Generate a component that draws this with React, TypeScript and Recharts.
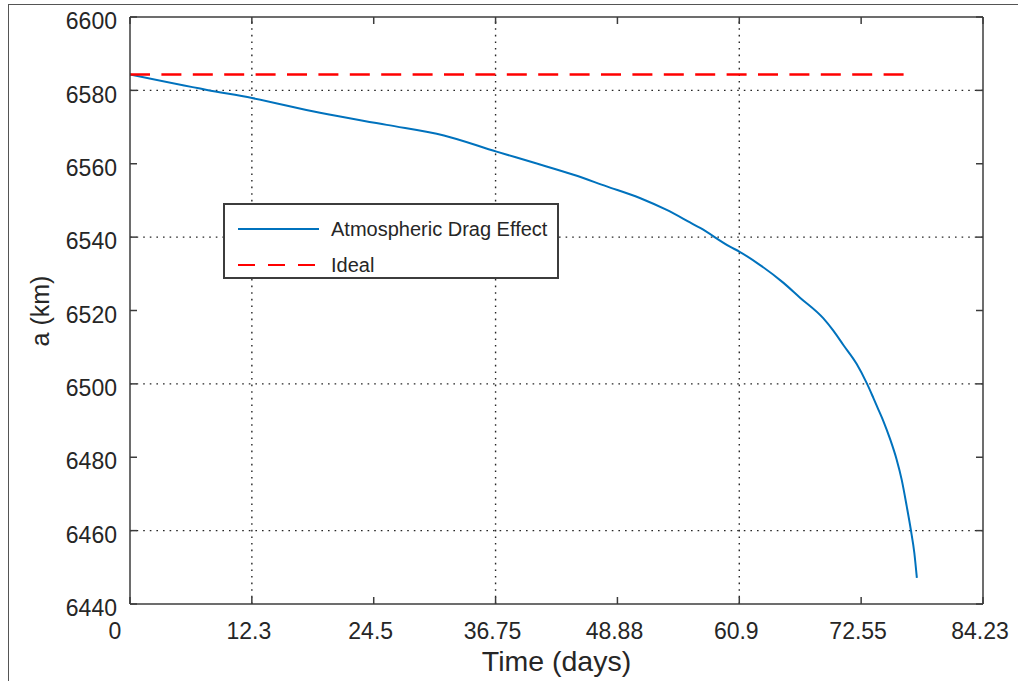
import React from 'react';
import { LineChart, Line, XAxis, YAxis, ReferenceLine, Legend, Label } from 'recharts';

// Semi-major axis decay under atmospheric drag vs. the drag-free orbit
const dragDays = [0, 7.6, 12.05, 18.76, 25.35, 31.0, 36.2, 40.0, 43.8, 47.0, 50.4, 53.0, 55.3, 56.3, 59.24, 60.2, 61.9, 64.5, 66.16, 68.45, 69.45, 70.44, 71.76, 72.75, 73.4, 73.9, 74.4, 75.05, 75.7, 76.2, 76.7, 77.1, 77.45, 77.7];
const dragA = [6584.3, 6580.1, 6577.9, 6573.9, 6570.6, 6567.7, 6563.3, 6560.2, 6557.0, 6553.9, 6550.6, 6547.4, 6544.0, 6542.5, 6537.4, 6536.0, 6533.0, 6527.6, 6523.5, 6517.9, 6514.5, 6510.6, 6505.4, 6500.2, 6496.2, 6493.0, 6489.8, 6485.0, 6479.4, 6473.9, 6466.6, 6460.3, 6453.9, 6447.1];

const idealDays = [0, 77.5];
const idealA = [6584.3, 6584.3];

// x ticks are evenly spaced across the axis, labelled with the day marks below
const xTickValues = [0, 12.033, 24.066, 36.099, 48.131, 60.164, 72.197, 84.23];
const xTickLabels = ['0', '12.3', '24.5', '36.75', '48.88', '60.9', '72.55', '84.23'];
const xGridValues = [12.033, 36.099, 60.164];

const yTickValues = [6440, 6460, 6480, 6500, 6520, 6540, 6560, 6580, 6600];
const yGridValues = [6460, 6500, 6540, 6580];

const xDomain: [number, number] = [0, 84.23];
const yDomain: [number, number] = [6440, 6600];

const dragData = dragDays.map((day, i) => ({ day, a: dragA[i] }));
const idealData = idealDays.map((day, i) => ({ day, a: idealA[i] }));

// The ideal orbit is plotted against the top/right axes (same domains), which closes the box
const series = [
  { name: 'Atmospheric Drag Effect', data: dragData, color: '#0072BD', width: 2, dash: undefined as string | undefined, legendDash: undefined as string | undefined, xId: 'bottom', yId: 'left' },
  { name: 'Ideal', data: idealData, color: '#FF0000', width: 2.5, dash: '20 11.4', legendDash: '17 13', xId: 'top', yId: 'right' },
];

const FONT = "'Liberation Sans', Arial, sans-serif";
const TEXT = '#262626';
const AXIS = '#3c3c3c';

const XTick = (props: any) => {
  const { x, y, index } = props;
  const shift = index === 0 ? -15 : -3;
  return (
    <text x={x + shift} y={y} textAnchor="middle" fill={TEXT} fontSize={23} fontFamily={FONT}>
      {xTickLabels[index]}
    </text>
  );
};

const YTick = (props: any) => {
  const { x, y, payload } = props;
  return (
    <text x={x} y={y + 4} dy="0.355em" textAnchor="end" fill={TEXT} fontSize={23} fontFamily={FONT}>
      {payload.value}
    </text>
  );
};

const NoTick = () => <g />;

const LegendBox = () => (
  <div
    style={{
      width: 336,
      height: 76,
      boxSizing: 'border-box',
      border: `2px solid ${AXIS}`,
      background: '#fff',
      position: 'relative',
      fontFamily: FONT,
      fontSize: 20,
      color: TEXT,
    }}
  >
    {series.map((s, i) => (
      <div key={s.name} style={{ position: 'absolute', left: 13, top: 10 + i * 36, height: 28, display: 'flex', alignItems: 'center' }}>
        <svg width={82} height={10} style={{ display: 'block' }}>
          <line x1={0} y1={5} x2={81} y2={5} stroke={s.color} strokeWidth={1.8} strokeDasharray={s.legendDash} />
        </svg>
        <span style={{ marginLeft: 11, whiteSpace: 'nowrap', lineHeight: '28px' }}>{s.name}</span>
      </div>
    ))}
  </div>
);

const axisLine = { stroke: AXIS, strokeWidth: 1.5 };

export default function App() {
  return (
    <div style={{ position: 'absolute', left: 0, top: 0, width: 1018, height: 681, background: '#fff' }}>
      <div
        style={{
          position: 'absolute',
          left: 8,
          top: 4,
          right: 0,
          bottom: 0,
          borderTop: '1.5px solid #555',
          borderLeft: '1.5px solid #555',
        }}
      />
      <LineChart width={1018} height={681} margin={{ top: 16, right: 34, bottom: 0, left: 0 }}>
        <XAxis
          xAxisId="bottom"
          type="number"
          dataKey="day"
          domain={xDomain}
          ticks={xTickValues}
          interval={0}
          height={77}
          allowDataOverflow
          axisLine={axisLine}
          tickLine={axisLine}
          tickSize={-7}
          tickMargin={42}
          tick={<XTick />}
        >
          <Label
            content={(p: any) => {
              const vb = p.viewBox;
              return (
                <text x={vb.x + vb.width / 2} y={671} textAnchor="middle" fill={TEXT} fontSize={28.5} fontFamily={FONT}>
                  Time (days)
                </text>
              );
            }}
          />
        </XAxis>
        <XAxis
          xAxisId="top"
          orientation="top"
          type="number"
          dataKey="day"
          domain={xDomain}
          ticks={xTickValues}
          interval={0}
          height={1}
          allowDataOverflow
          axisLine={axisLine}
          tickLine={axisLine}
          tickSize={-7}
          tick={NoTick}
        />
        <YAxis
          yAxisId="left"
          type="number"
          domain={yDomain}
          ticks={yTickValues}
          interval={0}
          width={130}
          allowDataOverflow
          axisLine={axisLine}
          tickLine={axisLine}
          tickSize={-7}
          tickMargin={20}
          tick={<YTick />}
        >
          <Label
            content={() => (
              <text x={40} y={311} transform="rotate(-90 40 311)" dy="0.355em" textAnchor="middle" fill={TEXT} fontSize={25} fontFamily={FONT}>
                a (km)
              </text>
            )}
          />
        </YAxis>
        <YAxis
          yAxisId="right"
          orientation="right"
          type="number"
          domain={yDomain}
          ticks={yTickValues}
          interval={0}
          width={1}
          allowDataOverflow
          axisLine={axisLine}
          tickLine={axisLine}
          tickSize={-7}
          tick={NoTick}
        />
        {xGridValues.map((v) => (
          <ReferenceLine key={`gx${v}`} x={v} xAxisId="bottom" yAxisId="left" stroke={TEXT} strokeWidth={1.4} strokeDasharray="1.6 5" />
        ))}
        {yGridValues.map((v) => (
          <ReferenceLine key={`gy${v}`} y={v} xAxisId="bottom" yAxisId="left" stroke={TEXT} strokeWidth={1.4} strokeDasharray="1.6 5" />
        ))}
        {series.map((s) => (
          <Line
            key={s.name}
            xAxisId={s.xId}
            yAxisId={s.yId}
            data={s.data}
            dataKey="a"
            name={s.name}
            type="monotone"
            stroke={s.color}
            strokeWidth={s.width}
            strokeDasharray={s.dash}
            dot={false}
            activeDot={false}
            isAnimationActive={false}
          />
        ))}
        <Legend
          layout="horizontal"
          align="center"
          verticalAlign="middle"
          content={<LegendBox />}
          wrapperStyle={{ left: 223, top: 203, width: 336, height: 76 }}
        />
      </LineChart>
    </div>
  );
}
